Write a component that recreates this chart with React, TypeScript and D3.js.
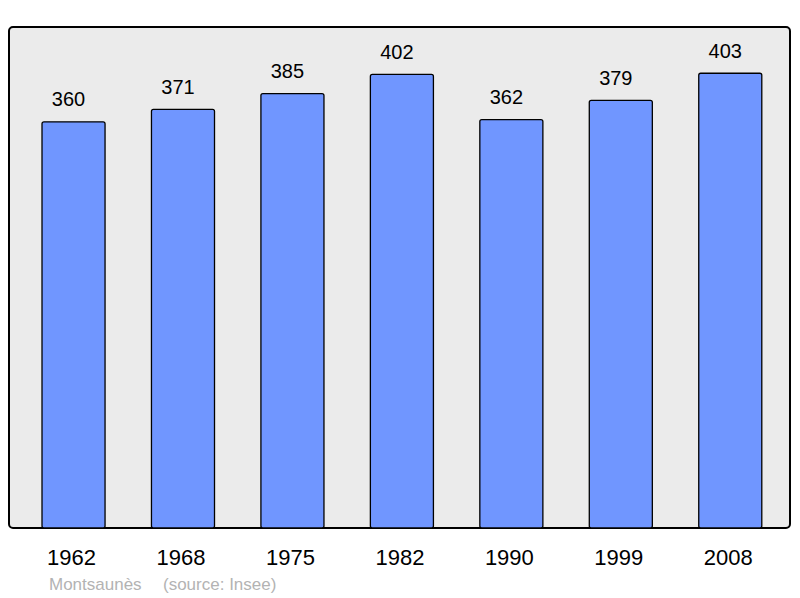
import * as d3 from "d3";
import * as React from "react";

const years = ["1962", "1968", "1975", "1982", "1990", "1999", "2008"];
const population = [360, 371, 385, 402, 362, 379, 403];
const place = "Montsaunès";
const source = "(source: Insee)";

const width = 800;
const height = 598;
const frame = { left: 9, top: 27, right: 790, bottom: 528 };

export default function App() {
  const x = d3
    .scaleBand<string>()
    .domain(years)
    .range([18.8, 785])
    .paddingInner(0.424)
    .paddingOuter(0.212);

  const y = d3
    .scaleLinear()
    .domain([0, 444])
    .range([frame.bottom, frame.top]);

  return (
    <svg
      width={width}
      height={height}
      style={{ position: "absolute", left: 0, top: 0, fontFamily: "'Liberation Sans', Arial, sans-serif" }}
    >
      <rect
        x={frame.left}
        y={frame.top}
        width={frame.right - frame.left}
        height={frame.bottom - frame.top}
        rx={4}
        fill="#ebebeb"
        stroke="#000"
        strokeWidth={2}
      />
      {years.map((yr, i) => {
        const v = population[i];
        const bx = x(yr)!;
        const cx = bx + x.bandwidth() / 2;
        return (
          <g key={yr}>
            <rect
              x={bx}
              y={y(v)}
              width={x.bandwidth()}
              height={frame.bottom - y(v)}
              rx={2}
              fill="#7096ff"
              stroke="#000"
              strokeWidth={1.3}
            />
            <text x={cx - 5} y={y(v) - 15.3} textAnchor="middle" fontSize={20} fill="#000">
              {v}
            </text>
            <text x={cx - 2} y={564.5} textAnchor="middle" fontSize={22} fill="#000">
              {yr}
            </text>
          </g>
        );
      })}
      <text x={49} y={590} fontSize={17} fill="#b3b3b3">
        {place}
      </text>
      <text x={163} y={590} fontSize={17} fill="#b3b3b3">
        {source}
      </text>
    </svg>
  );
}
